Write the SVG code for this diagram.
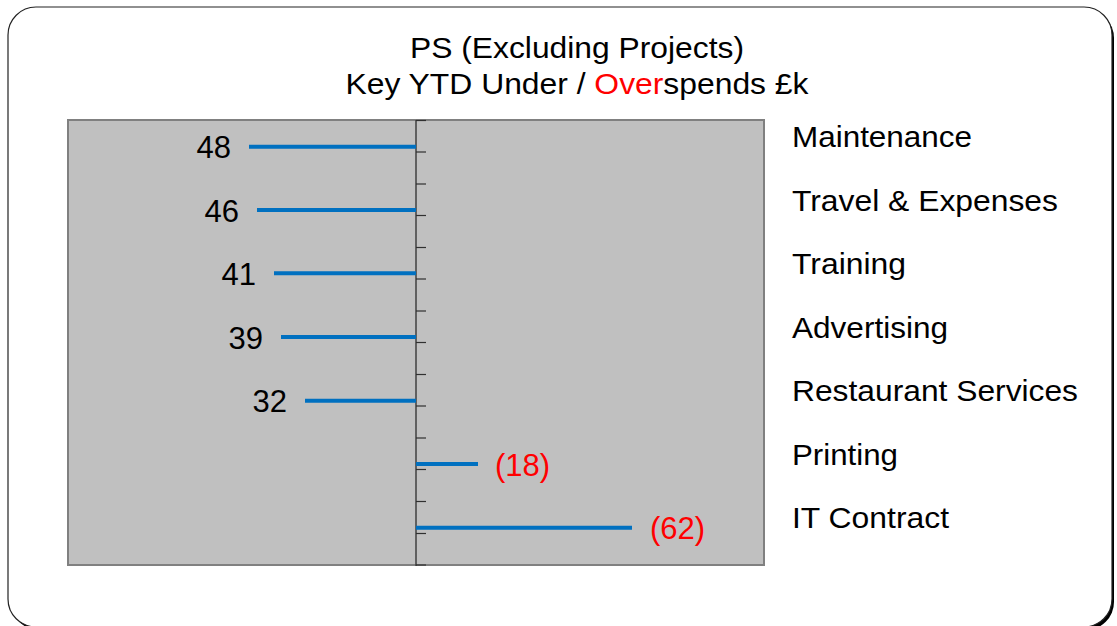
<svg xmlns="http://www.w3.org/2000/svg" width="1117" height="626" viewBox="0 0 1117 626">
<style>
text{font-family:"Liberation Sans",Arial,sans-serif;fill:#000}
.t{font-size:30px;text-anchor:middle}
.lab{font-size:30px}
.num{font-size:31px;text-anchor:end}
.neg{font-size:31px;fill:#FF0000}
.bar{stroke:#0070C0;stroke-width:4}
.tick{stroke:#303030;stroke-width:1.2}
</style>
<g id="frame">
<rect x="11" y="10" width="1103" height="620" rx="28" ry="28" fill="#000"/>
<rect x="8" y="7" width="1104" height="620" rx="28" ry="28" fill="#fff" stroke="#222" stroke-width="1.2"/>
</g>
<g id="title">
<text class="t" x="577" y="58" textLength="334" lengthAdjust="spacingAndGlyphs">PS (Excluding Projects)</text>
<text class="t" x="577" y="94" textLength="463" lengthAdjust="spacingAndGlyphs">Key YTD Under / <tspan fill="#FF0000">Over</tspan>spends £k</text>
</g>
<g id="plot">
<rect x="68" y="120" width="696" height="445" fill="#C0C0C0" stroke="#808080" stroke-width="2"/>
<line x1="416" y1="120" x2="416" y2="566" stroke="#404040" stroke-width="1.5"/>
<g id="ticks">
<line class="tick" x1="416" y1="120.5" x2="426" y2="120.5"/>
<line class="tick" x1="416" y1="152" x2="426" y2="152"/>
<line class="tick" x1="416" y1="184" x2="426" y2="184"/>
<line class="tick" x1="416" y1="215.5" x2="426" y2="215.5"/>
<line class="tick" x1="416" y1="247.5" x2="426" y2="247.5"/>
<line class="tick" x1="416" y1="279" x2="426" y2="279"/>
<line class="tick" x1="416" y1="311" x2="426" y2="311"/>
<line class="tick" x1="416" y1="342.5" x2="426" y2="342.5"/>
<line class="tick" x1="416" y1="374.5" x2="426" y2="374.5"/>
<line class="tick" x1="416" y1="406" x2="426" y2="406"/>
<line class="tick" x1="416" y1="438" x2="426" y2="438"/>
<line class="tick" x1="416" y1="469.5" x2="426" y2="469.5"/>
<line class="tick" x1="416" y1="501.5" x2="426" y2="501.5"/>
<line class="tick" x1="416" y1="533.5" x2="426" y2="533.5"/>
<line class="tick" x1="416" y1="565" x2="426" y2="565"/>
</g>
</g>
<g id="bars">
<g id="maintenance"><line class="bar" x1="249" y1="146.7" x2="416" y2="146.7"/><text class="num" x="231" y="158">48</text><text class="lab" x="792" y="147" textLength="180" lengthAdjust="spacingAndGlyphs">Maintenance</text></g>
<g id="travel"><line class="bar" x1="257" y1="210" x2="416" y2="210"/><text class="num" x="239" y="221.5">46</text><text class="lab" x="792" y="210.5" textLength="266" lengthAdjust="spacingAndGlyphs">Travel &amp; Expenses</text></g>
<g id="training"><line class="bar" x1="274" y1="273.3" x2="416" y2="273.3"/><text class="num" x="256" y="285">41</text><text class="lab" x="792" y="274" textLength="114" lengthAdjust="spacingAndGlyphs">Training</text></g>
<g id="advertising"><line class="bar" x1="281" y1="337" x2="416" y2="337"/><text class="num" x="263" y="348.5">39</text><text class="lab" x="792" y="337.5" textLength="156" lengthAdjust="spacingAndGlyphs">Advertising</text></g>
<g id="restaurant"><line class="bar" x1="305" y1="400.7" x2="416" y2="400.7"/><text class="num" x="287" y="412">32</text><text class="lab" x="792" y="401" textLength="286" lengthAdjust="spacingAndGlyphs">Restaurant Services</text></g>
<g id="printing"><line class="bar" x1="416" y1="464" x2="478" y2="464"/><text class="neg" x="495" y="475.5">(18)</text><text class="lab" x="792" y="465" textLength="106" lengthAdjust="spacingAndGlyphs">Printing</text></g>
<g id="it"><line class="bar" x1="416" y1="527.7" x2="632" y2="527.7"/><text class="neg" x="650" y="539">(62)</text><text class="lab" x="792" y="528" textLength="157" lengthAdjust="spacingAndGlyphs">IT Contract</text></g>
</g>
</svg>
